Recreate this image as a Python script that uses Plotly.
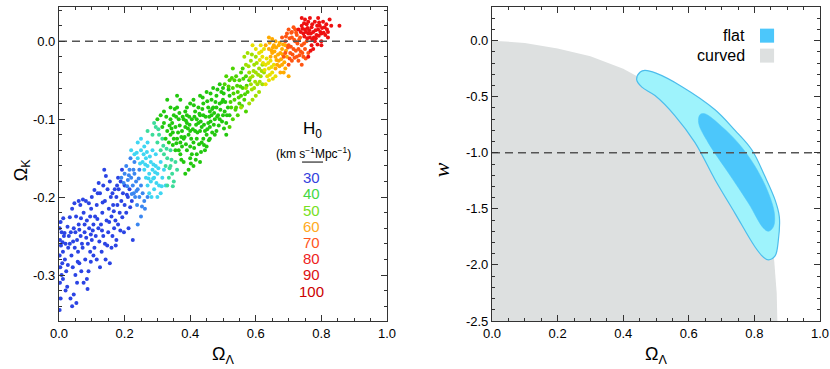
import plotly.graph_objects as go

# ---- left panel: Omega_Lambda vs Omega_K samples, grouped by H0 colour ----
blue_pts = [
    (0.002, -0.345), (0.005, -0.33), (0.003, -0.31), (0.008, -0.30), (0.004, -0.29), (0.01, -0.285),
    (0.002, -0.275), (0.012, -0.27), (0.006, -0.262), (0.003, -0.255), (0.015, -0.25), (0.008, -0.245),
    (0.002, -0.24), (0.02, -0.26), (0.018, -0.28), (0.022, -0.295), (0.025, -0.315), (0.028, -0.265),
    (0.03, -0.25), (0.026, -0.238), (0.005, -0.232), (0.012, -0.305), (0.02, -0.32),
    (0.035, -0.33), (0.04, -0.34), (0.045, -0.325), (0.05, -0.30), (0.042, -0.29), (0.038, -0.275),
    (0.048, -0.265), (0.055, -0.255), (0.036, -0.245), (0.045, -0.24), (0.06, -0.235), (0.052, -0.225),
    (0.04, -0.215), (0.065, -0.21), (0.058, -0.27), (0.062, -0.285), (0.068, -0.295), (0.055, -0.31),
    (0.05, -0.245), (0.066, -0.25), (0.07, -0.26), (0.033, -0.26), (0.06, -0.205),
    (0.075, -0.31), (0.085, -0.305), (0.09, -0.295), (0.08, -0.28), (0.095, -0.27), (0.072, -0.265),
    (0.088, -0.26), (0.1, -0.255), (0.078, -0.245), (0.092, -0.24), (0.105, -0.235), (0.085, -0.23),
    (0.11, -0.225), (0.075, -0.22), (0.098, -0.215), (0.115, -0.21), (0.082, -0.205), (0.1, -0.2),
    (0.118, -0.195), (0.108, -0.265), (0.115, -0.28), (0.112, -0.25), (0.12, -0.24), (0.095, -0.225),
    (0.105, -0.275), (0.078, -0.235),
    (0.125, -0.29), (0.13, -0.27), (0.14, -0.26), (0.135, -0.25), (0.15, -0.245), (0.128, -0.235),
    (0.145, -0.23), (0.16, -0.225), (0.132, -0.22), (0.152, -0.215), (0.165, -0.21), (0.14, -0.205),
    (0.158, -0.2), (0.125, -0.195), (0.148, -0.19), (0.17, -0.19), (0.135, -0.185), (0.155, -0.18),
    (0.138, -0.165), (0.16, -0.265), (0.168, -0.24), (0.142, -0.28), (0.155, -0.285), (0.163, -0.25),
    (0.172, -0.23),
    (0.175, -0.255), (0.18, -0.235), (0.185, -0.22), (0.178, -0.21), (0.19, -0.205), (0.2, -0.21),
    (0.195, -0.195), (0.182, -0.19), (0.205, -0.22), (0.21, -0.2), (0.188, -0.18), (0.2, -0.185),
    (0.215, -0.19), (0.222, -0.205), (0.225, -0.255), (0.212, -0.24), (0.198, -0.245), (0.18, -0.175),
    (0.192, -0.165), (0.175, -0.2),
    (0.013, -0.227), (0.027, -0.287), (0.047, -0.208), (0.057, -0.283), (0.073, -0.203), (0.083, -0.252),
    (0.097, -0.283), (0.103, -0.243), (0.117, -0.228), (0.123, -0.257), (0.133, -0.207), (0.147, -0.262),
    (0.153, -0.232), (0.167, -0.218), (0.173, -0.262), (0.187, -0.243), (0.193, -0.226), (0.207, -0.197),
    (0.217, -0.213), (0.143, -0.173), (0.121, -0.182), (0.108, -0.191), (0.091, -0.208), (0.067, -0.227),
    (0.033, -0.226), (0.017, -0.246), (0.043, -0.257), (0.087, -0.318), (0.053, -0.336), (0.163, -0.195),
    (0.177, -0.185), (0.131, -0.243), (0.097, -0.248), (0.062, -0.242), (0.011, -0.258),
]
midblue_pts = [
    (0.19, -0.175), (0.2, -0.17), (0.21, -0.178), (0.205, -0.16), (0.215, -0.165), (0.22, -0.175),
    (0.225, -0.185), (0.23, -0.17), (0.235, -0.18), (0.24, -0.19), (0.228, -0.195), (0.245, -0.2),
    (0.25, -0.185), (0.238, -0.21), (0.255, -0.195), (0.26, -0.205), (0.23, -0.155), (0.218, -0.15),
    (0.245, -0.165), (0.25, -0.225), (0.262, -0.215), (0.27, -0.2), (0.24, -0.235), (0.232, -0.2),
    (0.197, -0.182), (0.213, -0.172), (0.227, -0.165), (0.243, -0.176), (0.253, -0.212), (0.236, -0.192),
    (0.222, -0.196), (0.208, -0.186),
]
cyan_pts = [
    (0.22, -0.14), (0.23, -0.145), (0.24, -0.15), (0.25, -0.14), (0.255, -0.155), (0.26, -0.165),
    (0.265, -0.15), (0.27, -0.16), (0.275, -0.17), (0.28, -0.155), (0.285, -0.165), (0.29, -0.175),
    (0.28, -0.18), (0.27, -0.185), (0.295, -0.16), (0.3, -0.17), (0.305, -0.185), (0.31, -0.195),
    (0.3, -0.2), (0.29, -0.19), (0.315, -0.175), (0.32, -0.165), (0.26, -0.135), (0.27, -0.13),
    (0.285, -0.14), (0.295, -0.145), (0.31, -0.155), (0.275, -0.195), (0.282, -0.2), (0.325, -0.185),
    (0.25, -0.125), (0.265, -0.175), (0.24, -0.13), (0.258, -0.145),
    (0.247, -0.157), (0.263, -0.158), (0.277, -0.148), (0.288, -0.158), (0.293, -0.168), (0.303, -0.163),
    (0.297, -0.182), (0.287, -0.176), (0.273, -0.176), (0.313, -0.186), (0.268, -0.142), (0.237, -0.143),
]
teal_pts = [
    (0.27, -0.115), (0.285, -0.12), (0.3, -0.13), (0.31, -0.14), (0.32, -0.145), (0.33, -0.15),
    (0.34, -0.16), (0.335, -0.175), (0.345, -0.17), (0.35, -0.18), (0.325, -0.16), (0.315, -0.125),
    (0.295, -0.11), (0.305, -0.12), (0.34, -0.14), (0.355, -0.155), (0.36, -0.165), (0.29, -0.105),
    (0.33, -0.185), (0.318, -0.134), (0.328, -0.138), (0.343, -0.152), (0.337, -0.163), (0.303, -0.113),
    (0.347, -0.186),
]
green_pts = [
    (0.3, -0.1), (0.31, -0.095), (0.315, -0.11), (0.32, -0.105), (0.325, -0.125), (0.33, -0.115),
    (0.335, -0.13), (0.34, -0.12), (0.345, -0.105), (0.35, -0.095), (0.355, -0.11), (0.36, -0.125),
    (0.365, -0.14), (0.37, -0.13), (0.375, -0.115), (0.38, -0.1), (0.385, -0.09), (0.39, -0.105),
    (0.395, -0.12), (0.4, -0.135), (0.405, -0.145), (0.41, -0.13), (0.415, -0.115), (0.42, -0.1),
    (0.425, -0.085), (0.43, -0.095), (0.435, -0.11), (0.44, -0.125), (0.445, -0.14), (0.45, -0.12),
    (0.455, -0.105), (0.46, -0.09), (0.465, -0.075), (0.47, -0.085), (0.475, -0.1), (0.48, -0.115),
    (0.485, -0.095), (0.49, -0.08), (0.495, -0.065), (0.5, -0.075), (0.505, -0.09), (0.51, -0.105),
    (0.515, -0.085), (0.52, -0.07), (0.37, -0.145), (0.38, -0.155), (0.39, -0.14), (0.4, -0.15),
    (0.36, -0.085), (0.37, -0.075), (0.39, -0.085), (0.41, -0.075), (0.43, -0.07), (0.45, -0.065),
    (0.47, -0.06), (0.49, -0.055), (0.355, -0.14), (0.38, -0.125), (0.4, -0.115), (0.42, -0.125),
    (0.44, -0.095), (0.46, -0.11), (0.48, -0.07), (0.5, -0.095), (0.42, -0.145), (0.43, -0.155),
    (0.41, -0.16), (0.395, -0.165), (0.385, -0.17), (0.44, -0.08), (0.455, -0.085), (0.465, -0.095),
    (0.475, -0.12), (0.35, -0.125), (0.34, -0.1), (0.32, -0.09), (0.365, -0.1), (0.39, -0.095),
    (0.405, -0.1), (0.415, -0.09), (0.425, -0.105), (0.435, -0.13), (0.45, -0.135), (0.46, -0.125),
    (0.49, -0.1), (0.51, -0.12), (0.52, -0.095), (0.5, -0.06), (0.48, -0.085), (0.445, -0.115),
    (0.43, -0.115), (0.385, -0.11), (0.375, -0.135), (0.4, -0.08), (0.34, -0.085), (0.36, -0.07),
    (0.33, -0.075),
    (0.327, -0.097), (0.337, -0.108), (0.347, -0.117), (0.357, -0.097), (0.363, -0.117), (0.368, -0.108),
    (0.377, -0.097), (0.383, -0.123), (0.387, -0.132), (0.393, -0.112), (0.397, -0.097), (0.403, -0.125),
    (0.408, -0.113), (0.412, -0.137), (0.418, -0.107), (0.422, -0.117), (0.427, -0.132), (0.432, -0.103),
    (0.437, -0.087), (0.442, -0.107), (0.447, -0.097), (0.452, -0.113), (0.457, -0.127), (0.462, -0.103),
    (0.467, -0.087), (0.472, -0.107), (0.477, -0.078), (0.482, -0.097), (0.487, -0.108), (0.492, -0.088),
    (0.497, -0.078), (0.502, -0.067), (0.507, -0.078), (0.512, -0.095), (0.517, -0.062), (0.433, -0.142),
    (0.417, -0.152), (0.402, -0.157), (0.373, -0.152), (0.358, -0.131), (0.347, -0.133), (0.343, -0.112),
    (0.452, -0.077), (0.462, -0.067), (0.483, -0.062), (0.497, -0.103), (0.503, -0.112), (0.467, -0.117),
    (0.442, -0.133), (0.428, -0.093), (0.413, -0.097), (0.398, -0.107), (0.387, -0.102), (0.373, -0.123),
    (0.367, -0.092), (0.353, -0.087), (0.411, -0.082), (0.438, -0.072), (0.458, -0.097), (0.473, -0.092),
]
green2_pts = [
    (0.52, -0.05), (0.53, -0.06), (0.535, -0.075), (0.54, -0.085), (0.545, -0.065), (0.55, -0.05),
    (0.555, -0.04), (0.56, -0.06), (0.565, -0.075), (0.57, -0.09), (0.53, -0.1), (0.54, -0.045),
    (0.525, -0.085), (0.55, -0.08), (0.56, -0.035), (0.575, -0.065), (0.58, -0.05), (0.51, -0.045),
    (0.53, -0.035), (0.545, -0.095), (0.52, -0.11), (0.505, -0.055), (0.57, -0.045), (0.555, -0.07),
    (0.535, -0.05), (0.523, -0.078), (0.532, -0.067), (0.538, -0.088), (0.543, -0.057), (0.548, -0.072),
    (0.553, -0.058), (0.562, -0.048), (0.567, -0.068), (0.527, -0.047), (0.517, -0.058), (0.558, -0.083),
    (0.572, -0.057),
]
lime_pts = [
    (0.57, -0.03), (0.58, -0.04), (0.585, -0.055), (0.59, -0.045), (0.595, -0.03), (0.6, -0.04),
    (0.605, -0.055), (0.61, -0.065), (0.6, -0.07), (0.59, -0.075), (0.58, -0.08), (0.615, -0.045),
    (0.62, -0.03), (0.565, -0.02), (0.575, -0.015), (0.585, -0.025), (0.6, -0.02), (0.61, -0.035),
    (0.62, -0.055), (0.625, -0.04), (0.595, -0.06), (0.57, -0.06), (0.555, -0.085),
    (0.578, -0.032), (0.583, -0.047), (0.588, -0.062), (0.593, -0.038), (0.598, -0.052), (0.603, -0.028),
    (0.607, -0.043), (0.612, -0.052), (0.618, -0.038), (0.588, -0.017),
]
yellow_pts = [
    (0.6, -0.01), (0.61, -0.015), (0.62, -0.02), (0.63, -0.03), (0.635, -0.045), (0.64, -0.035),
    (0.645, -0.025), (0.65, -0.04), (0.625, -0.01), (0.615, -0.005), (0.63, -0.055), (0.64, -0.05),
    (0.655, -0.03), (0.66, -0.045), (0.59, -0.005), (0.612, -0.024), (0.622, -0.028), (0.627, -0.037),
    (0.633, -0.022), (0.638, -0.028), (0.643, -0.043), (0.648, -0.033), (0.652, -0.048), (0.617, -0.013),
]
orange_pts = [
    (0.63, -0.005), (0.64, -0.01), (0.645, -0.02), (0.65, -0.015), (0.655, -0.005), (0.66, -0.02),
    (0.665, -0.03), (0.67, -0.025), (0.675, -0.015), (0.68, -0.03), (0.685, -0.04), (0.69, -0.035),
    (0.66, 0.0), (0.67, -0.005), (0.68, -0.01), (0.695, -0.02), (0.7, -0.045), (0.675, -0.04),
    (0.64, 0.005), (0.65, 0.003), (0.66, -0.035), (0.69, -0.005),
    (0.642, -0.002), (0.652, -0.008), (0.657, -0.013), (0.662, -0.008), (0.668, -0.017), (0.672, -0.032),
    (0.677, -0.023), (0.682, -0.017), (0.687, -0.027), (0.692, -0.012), (0.663, -0.024), (0.648, -0.012),
    (0.673, -0.002), (0.683, -0.004),
]
orangered_pts = [
    (0.68, 0.005), (0.69, 0.0), (0.695, 0.01), (0.7, -0.005), (0.705, -0.015), (0.71, 0.005),
    (0.715, -0.01), (0.72, 0.0), (0.725, -0.02), (0.73, -0.01), (0.735, 0.005), (0.74, -0.005),
    (0.745, -0.02), (0.75, -0.01), (0.7, 0.015), (0.71, 0.012), (0.72, 0.015), (0.725, 0.008),
    (0.73, -0.025), (0.74, -0.03), (0.71, -0.025), (0.7, -0.03), (0.755, 0.0), (0.76, -0.015),
    (0.715, 0.018), (0.69, -0.015), (0.685, -0.02),
    (0.692, 0.006), (0.698, -0.008), (0.703, 0.004), (0.707, -0.007), (0.712, -0.017), (0.717, 0.002),
    (0.722, -0.012), (0.727, -0.003), (0.732, 0.002), (0.737, -0.013), (0.742, -0.015), (0.747, -0.003),
    (0.708, 0.011), (0.723, 0.011), (0.733, -0.018), (0.752, -0.022), (0.718, -0.021), (0.703, -0.022),
]
red_pts = [
    (0.73, 0.015), (0.74, 0.02), (0.745, 0.01), (0.75, 0.015), (0.755, 0.022), (0.76, 0.01),
    (0.765, 0.005), (0.77, 0.018), (0.775, 0.012), (0.78, 0.025), (0.785, 0.008), (0.79, 0.015),
    (0.795, 0.02), (0.8, 0.01), (0.805, 0.025), (0.81, 0.018), (0.815, 0.022), (0.82, 0.012),
    (0.825, 0.028), (0.83, 0.02), (0.855, 0.02), (0.77, -0.005), (0.78, 0.0), (0.76, 0.025),
    (0.75, 0.028), (0.74, 0.03), (0.79, 0.03), (0.765, 0.03), (0.8, 0.0), (0.775, -0.01),
    (0.82, 0.005), (0.8, -0.005), (0.76, -0.02),
    (0.737, 0.012), (0.742, 0.016), (0.748, 0.006), (0.753, 0.012), (0.758, 0.017), (0.763, 0.014),
    (0.768, 0.01), (0.772, 0.022), (0.777, 0.005), (0.782, 0.014), (0.787, 0.02), (0.792, 0.007),
    (0.797, 0.012), (0.802, 0.017), (0.807, 0.011), (0.812, 0.008), (0.817, 0.015), (0.772, 0.002),
    (0.757, 0.004), (0.783, 0.004), (0.767, -0.012), (0.788, -0.004), (0.747, 0.023), (0.793, 0.024),
]
sample_groups = [
    (blue_pts, "#2b44e4"), (midblue_pts, "#3a86f0"), (cyan_pts, "#3fd6f2"), (teal_pts, "#3cdc9a"),
    (green_pts, "#22c80e"), (green2_pts, "#4cd400"), (lime_pts, "#a0e000"), (yellow_pts, "#e8e000"),
    (orange_pts, "#ffaa00"), (orangered_pts, "#ff5512"), (red_pts, "#ee1010"),
]

h0_labels = ["30", "40", "50", "60", "70", "80", "90", "100"]
h0_colors = ["#3341dd", "#44d844", "#77e01e", "#ffaa22", "#ff5522", "#ee2222", "#dd1111", "#cc0000"]

# ---- right panel: w vs Omega_Lambda ----
curved_x = [0.0, 0.1, 0.2, 0.3, 0.4, 0.5, 0.6, 0.7, 0.75, 0.8, 0.84, 0.86, 0.868, 0.87]
curved_w = [0.0, -0.02, -0.07, -0.14, -0.25, -0.41, -0.63, -0.92, -1.12, -1.38, -1.66, -1.95, -2.25, -2.5]

outer_x = [0.441, 0.452, 0.466, 0.50, 0.578, 0.68, 0.741, 0.792, 0.832, 0.863, 0.876, 0.873, 0.863,
           0.843, 0.827, 0.802, 0.741, 0.68, 0.619, 0.558, 0.497, 0.457, 0.441]
outer_w = [-0.348, -0.28, -0.265, -0.29, -0.408, -0.616, -0.80, -0.973, -1.21, -1.42, -1.57, -1.78, -1.92,
           -1.955, -1.93, -1.84, -1.54, -1.24, -0.91, -0.67, -0.49, -0.415, -0.348]
inner_x = [0.634, 0.649, 0.70, 0.751, 0.802, 0.843, 0.861, 0.858, 0.843, 0.827, 0.782, 0.721, 0.66, 0.63, 0.634]
inner_w = [-0.66, -0.652, -0.765, -0.914, -1.12, -1.36, -1.54, -1.66, -1.70, -1.67, -1.45, -1.18, -0.914, -0.735, -0.66]

W, H = 830, 369
SANS = "Liberation Sans, Arial, sans-serif"
TICK_FONT = dict(family=SANS, size=13, color="black")

fig = go.Figure()

for pts, col in sample_groups:
    fig.add_trace(go.Scatter(
        x=[p[0] for p in pts], y=[p[1] for p in pts], mode="markers",
        marker=dict(size=4, color=col, line=dict(width=0)),
        xaxis="x", yaxis="y", showlegend=False, hoverinfo="skip"))

fig.add_trace(go.Scatter(x=[0, 1], y=[0, 0], mode="lines",
                         line=dict(color="#555555", width=1.4, dash="8px,5px"),
                         xaxis="x", yaxis="y", showlegend=False))

# curved region (grey)
fig.add_trace(go.Scatter(x=curved_x + [0.0, 0.0], y=curved_w + [-2.5, 0.0], mode="lines",
                         fill="toself", fillcolor="#dde0e0", line=dict(width=0),
                         xaxis="x2", yaxis="y2", showlegend=False))
fig.add_trace(go.Scatter(x=outer_x, y=outer_w, mode="lines", line=dict(color="#4cbdec", width=1.2, shape="spline"),
                         fill="toself", fillcolor="#9ef3fc", xaxis="x2", yaxis="y2", showlegend=False))
fig.add_trace(go.Scatter(x=inner_x, y=inner_w, mode="lines", line=dict(color="#4cc7fb", width=0.5, shape="spline"),
                         fill="toself", fillcolor="#4cc7fb", xaxis="x2", yaxis="y2", showlegend=False))
fig.add_trace(go.Scatter(x=[0, 1], y=[-1, -1], mode="lines",
                         line=dict(color="#555555", width=1.4, dash="8px,5px"),
                         xaxis="x2", yaxis="y2", showlegend=False))


def axis(domain, rng, minor, tickvals, ticktext, anchor):
    return dict(domain=domain, range=rng, anchor=anchor, automargin=False, showgrid=False, zeroline=False,
                showline=True, linecolor="#333333", linewidth=1.2, mirror="allticks",
                ticks="inside", ticklen=6, tickwidth=1, tickcolor="#333333",
                tickvals=tickvals, ticktext=ticktext, tickfont=TICK_FONT,
                minor=dict(dtick=minor, ticklen=3, tickwidth=1, tickcolor="#333333", ticks="inside"))


xt = [0, 0.2, 0.4, 0.6, 0.8, 1.0]
xtt = ["0.0", "0.2", "0.4", "0.6", "0.8", "1.0"]
fig.update_layout(
    width=W, height=H, margin=dict(l=0, r=0, t=7, b=48, autoexpand=False),
    paper_bgcolor="white", plot_bgcolor="white",
    xaxis=axis([59 / W, 387 / W], [0, 1], 0.05, xt, xtt, "y"),
    yaxis=axis([0, 1], [-0.359, 0.044], 0.02, [0, -0.1, -0.2, -0.3],
               ["0.0", "-0.1", "-0.2", "-0.3"], "x"),
    xaxis2=axis([492 / W, 820 / W], [0, 1], 0.05, xt, xtt, "y2"),
    yaxis2=axis([0, 1], [-2.5, 0.3], 0.1, [0, -0.5, -1.0, -1.5, -2.0, -2.5],
                ["0.0", "-0.5", "-1.0", "-1.5", "-2.0", "-2.5"], "x2"),
)

ann = []
# axis titles
ann.append(dict(text="Ω<sub>Λ</sub>", x=(59 + 387) / 2 / W, y=-0.11, xref="paper", yref="paper",
                xanchor="center", yanchor="middle",
                showarrow=False, font=dict(family=SANS, size=18, color="black")))
ann.append(dict(text="Ω<sub>Λ</sub>", x=(492 + 820) / 2 / W, y=-0.11, xref="paper", yref="paper",
                xanchor="center", yanchor="middle",
                showarrow=False, font=dict(family=SANS, size=18, color="black")))
ann.append(dict(text="Ω<sub>K</sub>", x=22 / W, y=0.48, xref="paper", yref="paper", textangle=-90,
                xanchor="center", yanchor="middle",
                showarrow=False, font=dict(family=SANS, size=18, color="black")))
ann.append(dict(text="<i>w</i>", x=441 / W, y=0.48, xref="paper", yref="paper", textangle=-90,
                xanchor="center", yanchor="middle",
                showarrow=False, font=dict(family="Liberation Serif, Times New Roman", size=22, color="black")))

# H0 key (left panel)
ann.append(dict(text="H<sub>0</sub>", x=0.772, y=-0.114, xref="x", yref="y", showarrow=False,
                xanchor="center", yanchor="middle", font=dict(family=SANS, size=17, color="black")))
ann.append(dict(text="(km s<sup>−1</sup>Mpc<sup>−1</sup>)", x=0.775, y=-0.143, xref="x", yref="y",
                xanchor="center", yanchor="middle",
                showarrow=False, font=dict(family=SANS, size=12, color="black")))
for i, (lab, col) in enumerate(zip(h0_labels, h0_colors)):
    ann.append(dict(text=lab, x=0.77, y=-0.175 - i * 0.0208, xref="x", yref="y", showarrow=False,
                    xanchor="center", yanchor="middle", font=dict(family=SANS, size=15, color=col)))

# legend (right panel)
ann.append(dict(text="flat", x=0.777, y=0.045, xref="x2", yref="y2", xanchor="right", yanchor="middle",
                showarrow=False, font=dict(family=SANS, size=16, color="black")))
ann.append(dict(text="curved", x=0.777, y=-0.134, xref="x2", yref="y2", xanchor="right", yanchor="middle",
                showarrow=False, font=dict(family=SANS, size=16, color="black")))
fig.update_layout(annotations=ann)

fig.add_shape(type="line", x0=0.741, x1=0.805, y0=-0.155, y1=-0.155, xref="x", yref="y",
              line=dict(color="black", width=1))
fig.add_shape(type="rect", x0=0.817, x1=0.860, y0=-0.018, y1=0.107, xref="x2", yref="y2",
              fillcolor="#4cc7fb", line=dict(width=0))
fig.add_shape(type="rect", x0=0.817, x1=0.860, y0=-0.196, y1=-0.071, xref="x2", yref="y2",
              fillcolor="#dde0e0", line=dict(width=0))

# page body has a default 8px margin; drop it so the figure sits at the window's corner
fig.write_html("out.html", config={"displayModeBar": False},
               post_script="document.body.style.margin='0px';")
